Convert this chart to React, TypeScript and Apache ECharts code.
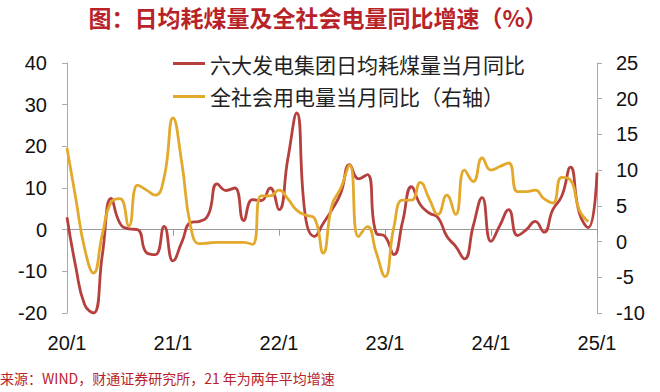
import React, { useEffect, useRef } from "react";
import * as echarts from "echarts";

const years = ["20", "21", "22", "23", "24"];
const categories: string[] = [];
years.forEach((y) => {
  for (let m = 1; m <= 12; m++) categories.push(`${y}/${m}`);
});
categories.push("25/1");

const coalYoY = [
  3, -9, -18, -20, -6, 7.5, 1.5, 0.2, 0, -5.5, -6, 0.8,
  -7.5, -3, 1.7, 2, 3.6, 11, 9.4, 10, 2.2, 7.2, 7, 10,
  4.8, 17, 28, 3, -1.6, 1.5, 4.8, 8.8, 15.6, 12.2, 13.2, -0.8,
  -1.6, -6, 2, 10.3, 6, 4, 2.9, -1.6, -4, -7, 1, 7.7,
  -2.8, 1, 4.8, -1.4, 0, 2, -0.6, 4.8, 8, 15, 4, 0.5,
  13.7,
];

const powerYoY = [
  13.1, 6, -1, -4.4, 1, 5.5, 6, 2.2, 7.9, 7.2, 6.5, 9,
  17.3, 11, 2.1, -0.3, -0.2, -0.1, -0.1, -0.1, -0.1, -0.4, 6.4, 6.4,
  7.2, 6, 4.4, 3.7, 3.3, -1.6, 5.1, 7.5, 10.7, 0.7, 2.1, -1.5,
  -4.9, 2, 5.8, 5.8, 8.3, 6, 3.8, 6.5, 3.8, 10, 8.4, 11.7,
  10, 10.5, 11, 7, 7, 7.2, 6, 5.4, 9, 8.6, 4.4, 2.8,
  null,
];

const seriesNames = ["六大发电集团日均耗煤量当月同比", "全社会用电量当月同比（右轴）"];
const titleText = "图：日均耗煤量及全社会电量同比增速（%）";
const sourceText = "来源：WIND，财通证券研究所，21 年为两年平均增速";

const RED = "#b5403e";
const YELLOW = "#e3a92c";

export default function App() {
  const ref = useRef<HTMLDivElement>(null);
  useEffect(() => {
    if (!ref.current) return;
    const chart = echarts.init(ref.current, undefined, { renderer: "svg" });
    const axisFont = "'Liberation Sans', Arial, sans-serif";
    chart.setOption({
      animation: false,
      backgroundColor: "#ffffff",
      grid: { left: 67, right: 63, top: 63, bottom: 79 },
      legend: {
        orient: "vertical",
        left: 168,
        top: 48,
        itemWidth: 32,
        itemHeight: 3,
        itemGap: 12,
        icon: "rect",
        textStyle: {
          fontSize: 21,
          color: "#222",
          fontFamily: "'Noto Sans CJK SC', sans-serif",
        },
        data: seriesNames,
      },
      graphic: [
        {
          type: "text",
          x: 318,
          y: 17,
          style: {
            text: titleText,
            fontSize: 23,
            fontWeight: "bold",
            fill: "#b8232a",
            fontFamily: "'Noto Sans CJK SC', sans-serif",
            align: "center",
            verticalAlign: "middle",
          },
        },
        {
          type: "text",
          x: 0,
          y: 378,
          style: {
            text: sourceText,
            fontSize: 14,
            fill: "#b8232a",
            fontFamily: "'Noto Sans CJK SC', sans-serif",
            align: "left",
            verticalAlign: "middle",
          },
        },
      ],
      xAxis: [
        {
          type: "category",
          data: categories,
          boundaryGap: false,
          position: "bottom",
          axisLine: { show: false, onZero: false },
          axisTick: { show: false },
          axisLabel: {
            interval: 11,
            margin: 20,
            fontSize: 20,
            color: "#111",
            fontFamily: axisFont,
          },
        },
        {
          type: "category",
          data: categories,
          boundaryGap: false,
          position: "bottom",
          axisLine: { show: true, onZero: true, onZeroAxisIndex: 0, lineStyle: { color: "#999", width: 1 } },
          axisTick: { show: true, interval: 11, length: 6, inside: false, lineStyle: { color: "#999" } },
          axisLabel: { show: false },
        },
      ],
      yAxis: [
        {
          type: "value",
          min: -20,
          max: 40,
          interval: 10,
          position: "left",
          splitLine: { show: false },
          axisLine: { show: true, lineStyle: { color: "#aaa" } },
          axisTick: { show: true, length: 5, lineStyle: { color: "#aaa" } },
          axisLabel: { margin: 20, fontSize: 20, color: "#111", fontFamily: axisFont },
        },
        {
          type: "value",
          min: -10,
          max: 25,
          interval: 5,
          position: "right",
          splitLine: { show: false },
          axisLine: { show: true, lineStyle: { color: "#aaa" } },
          axisTick: { show: true, length: 5, lineStyle: { color: "#aaa" } },
          axisLabel: { margin: 19, fontSize: 20, color: "#111", fontFamily: axisFont },
        },
      ],
      series: [
        {
          name: seriesNames[0],
          type: "line",
          xAxisIndex: 0,
          yAxisIndex: 0,
          data: coalYoY,
          smooth: 0.5,
          symbol: "none",
          lineStyle: { color: RED, width: 2.8 },
          itemStyle: { color: RED },
        },
        {
          name: seriesNames[1],
          type: "line",
          xAxisIndex: 0,
          yAxisIndex: 1,
          data: powerYoY,
          smooth: 0.5,
          symbol: "none",
          lineStyle: { color: YELLOW, width: 2.8 },
          itemStyle: { color: YELLOW },
        },
      ],
    });
    return () => chart.dispose();
  }, []);
  return (
    <div
      ref={ref}
      style={{ position: "fixed", left: 0, top: 0, width: 660, height: 392 }}
    />
  );
}
